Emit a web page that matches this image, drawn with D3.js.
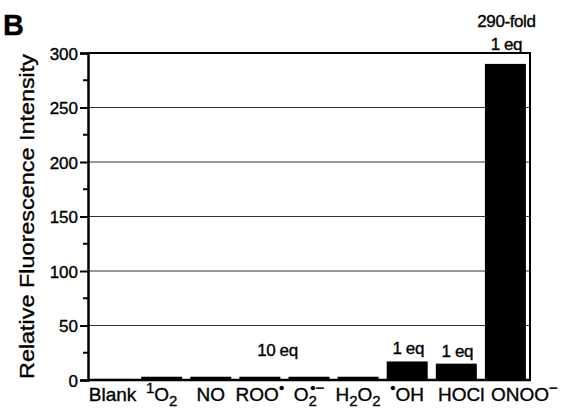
<!DOCTYPE html>
<html>
<head>
<meta charset="utf-8">
<script src="https://cdn.jsdelivr.net/npm/d3@7"></script>
<style>
  body { margin: 0; background: #fff; }
  text { font-family: "Liberation Sans", Arial, sans-serif; fill: #000; stroke: #000; stroke-width: 0.35px; }
</style>
</head>
<body>
<div id="chart"></div>
<script>
// categories use a small markup: ^{..} superscript, _{..} subscript
const categories = ["Blank", "^{1}O_{2}", "NO", "ROO^{•}", "O_{2}^{•−}", "H_{2}O_{2}", "^{•}OH", "HOCl", "ONOO^{−}"];
const values = [1, 3, 3, 3, 3, 3, 17, 15, 290];
const yTicks = [0, 50, 100, 150, 200, 250, 300];
const yMinorTicks = [25, 75, 125, 175, 225, 275];
// annotation text, categories it sits over, and the value height it sits at
const annoText = ["10 eq", "1 eq", "1 eq", "1 eq", "290-fold"];
const annoCats = [["ROO^{•}", "O_{2}^{•−}"], ["^{•}OH"], ["HOCl"], ["ONOO^{−}"], ["ONOO^{−}"]];
const annoAt = [22, 24, 21, 303, 324];

const W = 561, H = 410;
const margin = { top: 53, right: 31, bottom: 30, left: 88 };

const svg = d3.select("#chart").append("svg").attr("width", W).attr("height", H);

const x = d3.scaleBand().domain(categories)
  .range([margin.left, W - margin.right])
  .paddingInner(0.165).paddingOuter(0.083);
const y = d3.scaleLinear().domain([0, 300]).range([H - margin.bottom, margin.top]);

// grid lines behind bars
svg.append("g").selectAll("line")
  .data(yTicks.filter(d => d > 0 && d < 300))
  .join("line")
  .attr("x1", margin.left).attr("x2", W - margin.right)
  .attr("y1", d => y(d)).attr("y2", d => y(d))
  .attr("stroke", "#333").attr("stroke-width", 1.2);

// bars
svg.append("g").selectAll("rect")
  .data(values)
  .join("rect")
  .attr("x", (d, i) => x(categories[i]))
  .attr("width", x.bandwidth())
  .attr("y", d => y(d))
  .attr("height", d => y(0) - y(d))
  .attr("fill", "#000");

// frame: top and right
svg.append("line")
  .attr("x1", margin.left).attr("x2", W - margin.right + 1)
  .attr("y1", y(300)).attr("y2", y(300))
  .attr("stroke", "#000").attr("stroke-width", 2);
svg.append("line")
  .attr("x1", W - margin.right).attr("x2", W - margin.right)
  .attr("y1", y(300)).attr("y2", y(0))
  .attr("stroke", "#000").attr("stroke-width", 2);

// y axis
const yAxis = d3.axisLeft(y).tickValues(yTicks).tickSize(8).tickPadding(2).tickFormat(d3.format("d"));
const gy = svg.append("g").attr("transform", `translate(${margin.left},0)`).call(yAxis);
gy.select(".domain").attr("stroke-width", 2.5);
gy.selectAll(".tick line").attr("stroke-width", 2);
gy.selectAll(".tick text").style("font-size", "17px").attr("font-family", null).attr("dy", "0.36em");
gy.append("g").selectAll("line")
  .data(yMinorTicks)
  .join("line")
  .attr("x1", -5).attr("x2", 0)
  .attr("y1", d => y(d)).attr("y2", d => y(d))
  .attr("stroke", "#000").attr("stroke-width", 2);

// x axis line
svg.append("line")
  .attr("x1", margin.left - 1).attr("x2", W - margin.right + 1)
  .attr("y1", y(0)).attr("y2", y(0))
  .attr("stroke", "#000").attr("stroke-width", 2.5);

// x labels with sub / superscripts
const labelNudge = { "HOCl": 5, "ONOO^{−}": 19 };
function parseLabel(s) {
  const parts = [];
  const re = /(\^|_)\{([^}]*)\}|([^^_]+)/g;
  let m;
  while ((m = re.exec(s)) !== null) {
    if (m[3]) parts.push({ type: "n", t: m[3] });
    else parts.push({ type: m[1] === "^" ? "sup" : "sub", t: m[2] });
  }
  return parts;
}
const shift = { n: 0, sub: 5, sup: -8 };
categories.forEach(function (c) {
  const t = svg.append("text")
    .attr("x", x(c) + x.bandwidth() / 2 + (labelNudge[c] || 0))
    .attr("y", 401)
    .attr("text-anchor", "middle")
    .style("font-size", "19px");
  let cur = 0, prev = null, prevLen = 0;
  parseLabel(c).forEach(function (p) {
    const ts = t.append("tspan").text(p.t);
    ts.attr("dy", shift[p.type] - cur);
    cur = shift[p.type];
    if (p.type !== "n") ts.style("font-size", "15px");
    if (p.type === "sup" && prev === "sub") ts.attr("dx", -prevLen * 0.8);
    prevLen = ts.node().getComputedTextLength();
    prev = p.type;
  });
});

// annotations
annoText.forEach(function (txt, i) {
  const cats = annoCats[i];
  const cx = d3.mean(cats, c => x(c) + x.bandwidth() / 2) - (cats.length > 1 ? 8 : 0);
  svg.append("text")
    .attr("x", cx + 1)
    .attr("y", y(annoAt[i]))
    .attr("text-anchor", "middle")
    .style("font-size", "17px")
    .attr("letter-spacing", "-0.4")
    .text(txt);
});

// y axis title
svg.append("text")
  .attr("transform", `translate(34,${(y(300) + y(0)) / 2}) rotate(-90)`)
  .attr("text-anchor", "middle")
  .style("font-size", "20px")
  .attr("textLength", 325)
  .attr("lengthAdjust", "spacingAndGlyphs")
  .text("Relative Fluorescence Intensity");

// panel letter
svg.append("text")
  .attr("x", 3).attr("y", 35)
  .style("font-size", "29px")
  .style("font-weight", "bold")
  .text("B");
</script>
</body>
</html>
